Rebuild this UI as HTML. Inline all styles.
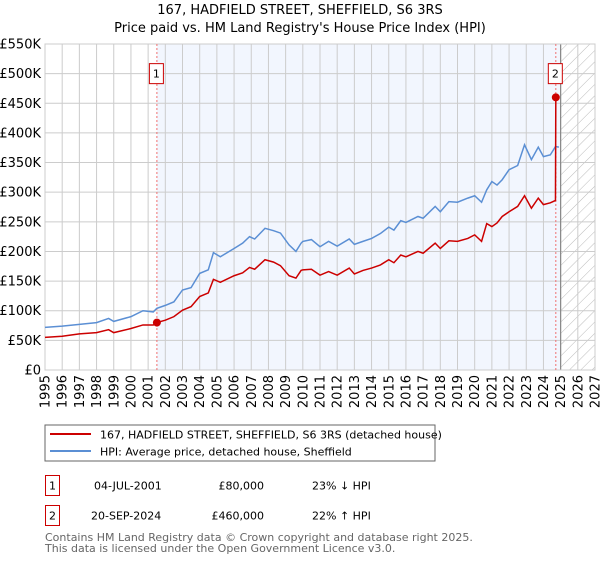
<!DOCTYPE html>
<html><head><meta charset="utf-8"><style>
body{margin:0;background:#fff;font-family:"DejaVu Sans","Liberation Sans",sans-serif;}
svg text{font-family:"DejaVu Sans","Liberation Sans",sans-serif;}
</style></head><body>
<svg width="600" height="560" xmlns="http://www.w3.org/2000/svg">
<defs><pattern id="hatch" patternUnits="userSpaceOnUse" width="8" height="8" patternTransform="rotate(45)"><line x1="0" y1="0" x2="0" y2="8" stroke="#bbb" stroke-width="1"/></pattern></defs>
<text x="300" y="14" text-anchor="middle" font-size="13">167, HADFIELD STREET, SHEFFIELD, S6 3RS</text>
<text x="300" y="32" text-anchor="middle" font-size="13">Price paid vs. HM Land Registry's House Price Index (HPI)</text>
<g id="plot"></g>
<rect x="45" y="425" width="390" height="36" fill="#fff" stroke="#666"/>
<line x1="50" y1="434" x2="91" y2="434" stroke="#cc0000" stroke-width="2"/>
<text x="100" y="438.5" font-size="11">167, HADFIELD STREET, SHEFFIELD, S6 3RS (detached house)</text>
<line x1="50" y1="451" x2="91" y2="451" stroke="#5b8fd4" stroke-width="2"/>
<text x="100" y="455.5" font-size="11">HPI: Average price, detached house, Sheffield</text>
<g font-size="11">
<rect x="45.5" y="475.5" width="14" height="20" fill="#fff" stroke="#cc0000"/>
<text x="52.5" y="489.5" text-anchor="middle">1</text>
<text x="94" y="489.5">04-JUL-2001</text>
<text x="264" y="489.5" text-anchor="end">£80,000</text>
<text x="312" y="489.5">23% ↓ HPI</text></g>
<g font-size="11">
<rect x="45.5" y="505.5" width="14" height="20" fill="#fff" stroke="#cc0000"/>
<text x="52.5" y="519.5" text-anchor="middle">2</text>
<text x="91" y="519.5">20-SEP-2024</text>
<text x="264" y="519.5" text-anchor="end">£460,000</text>
<text x="312" y="519.5">22% ↑ HPI</text></g>
<text x="45" y="541" font-size="11" fill="#666">Contains HM Land Registry data © Crown copyright and database right 2025.</text>
<text x="45" y="552" font-size="11" fill="#666">This data is licensed under the Open Government Licence v3.0.</text>
</svg>
<script>
const hpiYears=[1995,1996,1997,1998,1998.7,1999,2000,2000.7,2001.3,2001.5,2002,2002.5,2003,2003.5,2004,2004.5,2004.8,2005.2,2006,2006.5,2006.9,2007.2,2007.8,2008.3,2008.7,2009.2,2009.6,2009.9,2010,2010.5,2011,2011.5,2012,2012.7,2013,2013.5,2014,2014.5,2015,2015.3,2015.7,2016,2016.7,2017,2017.7,2018,2018.5,2019,2019.6,2020,2020.4,2020.7,2021,2021.3,2021.6,2022,2022.5,2022.9,2023.3,2023.7,2024,2024.4,2024.7,2024.9];
const hpiValues=[72,74,77,80,87,82,90,100,98,104,109,115,135,139,163,169,198,191,205,214,225,221,239,235,231,211,200,214,217,220,208,217,209,221,212,217,222,230,241,236,252,249,259,256,276,267,284,283,290,294,283,304,318,312,321,338,345,380,355,376,360,363,377,376];
const priceYears=[1995,1996,1997,1998,1998.7,1999,2000,2000.7,2001.3,2001.51,2002,2002.5,2003,2003.5,2004,2004.5,2004.8,2005.2,2006,2006.5,2006.9,2007.2,2007.8,2008.3,2008.7,2009.2,2009.6,2009.9,2010,2010.5,2011,2011.5,2012,2012.7,2013,2013.5,2014,2014.5,2015,2015.3,2015.7,2016,2016.7,2017,2017.7,2018,2018.5,2019,2019.6,2020,2020.4,2020.7,2021,2021.3,2021.6,2022,2022.5,2022.9,2023.3,2023.7,2024,2024.4,2024.7,2024.72];
const priceValues=[55,57,61,63,68,63,70,76,76,80,84,90,101,107,124,130,153,148,159,164,173,170,186,182,176,159,155,168,169,170,160,166,160,172,162,168,172,177,186,181,194,191,200,197,214,205,218,217,222,228,217,247,242,248,259,267,276,294,273,290,279,282,286,460];
const saleYears=[2001.51,2024.72];
const saleValues=[80,460];
const saleLabels=["1","2"];
const yTicks=[0,50,100,150,200,250,300,350,400,450,500,550];
const yTickLabels=["£0","£50K","£100K","£150K","£200K","£250K","£300K","£350K","£400K","£450K","£500K","£550K"];
const xTicks=[1995,1996,1997,1998,1999,2000,2001,2002,2003,2004,2005,2006,2007,2008,2009,2010,2011,2012,2013,2014,2015,2016,2017,2018,2019,2020,2021,2022,2023,2024,2025,2026,2027];
const L=45,R=595,T=44,B=370,X0=1995,X1=2027,YMAX=550,DATA_END=2025;
const xs=v=>L+(v-X0)/(X1-X0)*(R-L);
const ys=v=>B-v/YMAX*(B-T);
const NS="http://www.w3.org/2000/svg";
const g=document.getElementById('plot');
function mk(t,a){const e=document.createElementNS(NS,t);for(const k in a)e.setAttribute(k,a[k]);g.appendChild(e);return e;}
let e;
e=mk('rect',{x:L,y:T,width:R-L,height:B-T,fill:'#fff'});


e=mk('rect',{x:xs(saleYears[0]),y:T,width:xs(DATA_END)-xs(saleYears[0]),height:B-T,fill:'#f2f6fe'});


e=mk('rect',{x:xs(DATA_END),y:T,width:R-xs(DATA_END),height:B-T,fill:'url(#hatch)'});


yTicks.forEach((v,i)=>{
 e=mk('line',{x1:L,x2:R,y1:ys(v),y2:ys(v),stroke:'#ccc','stroke-width':1});
 
 
 e=mk('text',{x:L-4,y:ys(v)+4.5,'text-anchor':'end','font-size':'13'});e.textContent=yTickLabels[i];
 
 
});
xTicks.forEach(v=>{
 e=mk('line',{x1:xs(v),x2:xs(v),y1:T,y2:B,stroke:'#ccc','stroke-width':1});
 
 
 e=mk('text',{x:0,y:0,'text-anchor':'end','font-size':'13',transform:`translate(${xs(v)+4.5},${B+5}) rotate(-90)`});e.textContent=v;
 
 
});
e=mk('line',{x1:xs(DATA_END),x2:xs(DATA_END),y1:T,y2:B,stroke:'#888','stroke-width':1.2});


e=mk('rect',{x:L,y:T,width:R-L,height:B-T,fill:'none',stroke:'#ccc'});


saleYears.forEach(v=>{
 e=mk('line',{x1:xs(v),x2:xs(v),y1:T,y2:B,stroke:'#f07070','stroke-width':1,'stroke-dasharray':'2,2'});
 
 
});
e=mk('polyline',{points:hpiYears.map((y,i)=>xs(y)+','+ys(hpiValues[i])).join(' '),fill:'none',stroke:'#5b8fd4','stroke-width':1.5});


e=mk('polyline',{points:priceYears.map((y,i)=>xs(y)+','+ys(priceValues[i])).join(' '),fill:'none',stroke:'#cc0000','stroke-width':1.5});


saleYears.forEach((v,i)=>{
 e=mk('circle',{cx:xs(v),cy:ys(saleValues[i]),r:4,fill:'#cc0000'});
 
 
 e=mk('rect',{x:xs(v)-7.5,y:ys(500)-10,width:14,height:20,fill:'#fff',stroke:'#cc0000'});
 
 
 e=mk('text',{x:xs(v)-0.5,y:ys(500)+4,'text-anchor':'middle','font-size':'11'});e.textContent=saleLabels[i];
 
 
});
</script>
</body></html>
